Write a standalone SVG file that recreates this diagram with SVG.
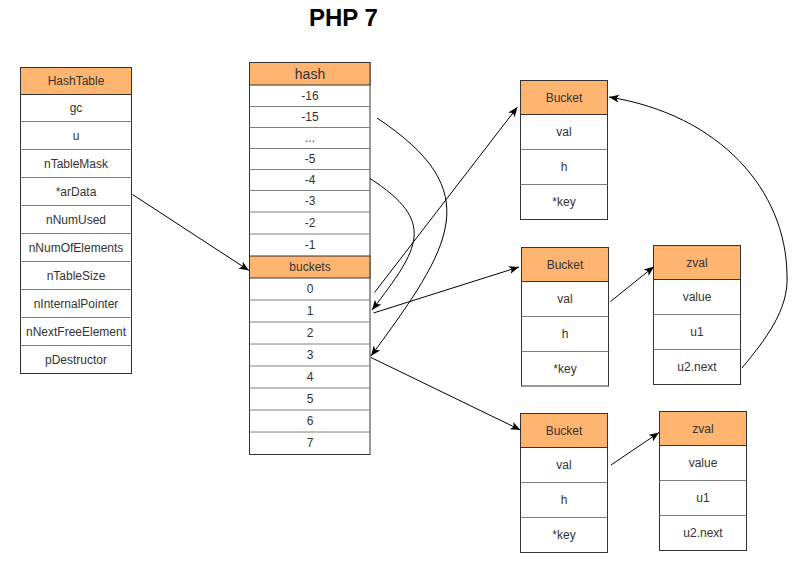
<svg xmlns="http://www.w3.org/2000/svg" width="808" height="566" viewBox="0 0 808 566">
<style>
.box{fill:#fff;stroke:#333;stroke-width:1}
.hd{fill:#FFB570;stroke:#333;stroke-width:1}
.div{stroke:#808080;stroke-width:1;fill:none}
text{font-family:"Liberation Sans",Arial,sans-serif;font-size:12px;fill:#333;text-anchor:middle}
.title{font-size:24px;font-weight:bold;fill:#000}
.big{font-size:14px}
.edge{fill:none;stroke:#000;stroke-width:1;marker-end:url(#arr)}
</style>
<defs>
<marker id="arr" markerUnits="userSpaceOnUse" markerWidth="12" markerHeight="10" refX="10" refY="4" orient="auto">
<path d="M0,0 L10,4 L0,8 L2.5,4 z" fill="#000"/>
</marker>
</defs>
<rect width="808" height="566" fill="#fff"/>
<text class="title" x="343.5" y="26">PHP 7</text>

<g id="hashtable">
<rect class="box" x="20.5" y="67.5" width="111" height="306"/>
<rect class="hd" x="20.5" y="67.5" width="111" height="27"/>
<path class="div" d="M20.5,121.5H131.5M20.5,149.5H131.5M20.5,177.5H131.5M20.5,205.5H131.5M20.5,233.5H131.5M20.5,261.5H131.5M20.5,289.5H131.5M20.5,317.5H131.5M20.5,345.5H131.5"/>
<text x="76" y="85">HashTable</text>
<text x="76" y="112">gc</text>
<text x="76" y="139.5">u</text>
<text x="76" y="167.5">nTableMask</text>
<text x="76" y="195.5">*arData</text>
<text x="76" y="223.5">nNumUsed</text>
<text x="76" y="251.5">nNumOfElements</text>
<text x="76" y="279.5">nTableSize</text>
<text x="76" y="307.5">nInternalPointer</text>
<text x="76" y="335.5">nNextFreeElement</text>
<text x="76" y="363.5">pDestructor</text>
</g>

<g id="hash">
<rect class="box" x="249.5" y="62.5" width="120.5" height="392"/>
<rect class="hd" x="249.5" y="62.5" width="120.5" height="22.5"/>
<rect class="hd" x="249.5" y="256" width="120.5" height="22"/>
<path class="div" d="M249.5,106.5H370M249.5,127.5H370M249.5,148.5H370M249.5,169.5H370M249.5,190.5H370M249.5,212H370M249.5,234H370M249.5,300H370M249.5,322H370M249.5,344H370M249.5,366H370M249.5,388H370M249.5,410H370M249.5,432H370"/>
<text class="big" x="310" y="79">hash</text>
<text x="310" y="100">-16</text>
<text x="310" y="121">-15</text>
<text x="310" y="142">...</text>
<text x="310" y="163">-5</text>
<text x="310" y="184">-4</text>
<text x="310" y="205">-3</text>
<text x="310" y="227">-2</text>
<text x="310" y="249">-1</text>
<text x="310" y="271">buckets</text>
<text x="310" y="293">0</text>
<text x="310" y="315">1</text>
<text x="310" y="337">2</text>
<text x="310" y="359">3</text>
<text x="310" y="381">4</text>
<text x="310" y="403">5</text>
<text x="310" y="425">6</text>
<text x="310" y="447">7</text>
</g>

<g id="bucket1">
<rect class="box" x="520.5" y="80.5" width="87" height="139"/>
<rect class="hd" x="520.5" y="80.5" width="87" height="34"/>
<path class="div" d="M520.5,149.5H607.5M520.5,184.5H607.5"/>
<text x="564" y="101.5">Bucket</text>
<text x="564" y="136">val</text>
<text x="564" y="171">h</text>
<text x="564" y="206">*key</text>
</g>

<g id="bucket2">
<rect class="box" x="521.5" y="247.5" width="87" height="138.5"/>
<rect class="hd" x="521.5" y="247.5" width="87" height="34"/>
<path class="div" d="M521.5,316.5H608.5M521.5,351.5H608.5"/>
<text x="565" y="268.5">Bucket</text>
<text x="565" y="303">val</text>
<text x="565" y="338">h</text>
<text x="565" y="373">*key</text>
</g>

<g id="bucket3">
<rect class="box" x="520.5" y="413.5" width="87" height="139"/>
<rect class="hd" x="520.5" y="413.5" width="87" height="34"/>
<path class="div" d="M520.5,482.5H607.5M520.5,517.5H607.5"/>
<text x="564" y="434.5">Bucket</text>
<text x="564" y="469">val</text>
<text x="564" y="504">h</text>
<text x="564" y="539">*key</text>
</g>

<g id="zval1">
<rect class="box" x="653.5" y="245.5" width="87" height="139"/>
<rect class="hd" x="653.5" y="245.5" width="87" height="34"/>
<path class="div" d="M653.5,314.5H740.5M653.5,349.5H740.5"/>
<text x="697" y="266.5">zval</text>
<text x="697" y="301">value</text>
<text x="697" y="336">u1</text>
<text x="697" y="371">u2.next</text>
</g>

<g id="zval2">
<rect class="box" x="659.5" y="411.5" width="87" height="139"/>
<rect class="hd" x="659.5" y="411.5" width="87" height="34"/>
<path class="div" d="M659.5,480.5H746.5M659.5,515.5H746.5"/>
<text x="703" y="432.5">zval</text>
<text x="703" y="467">value</text>
<text x="703" y="502">u1</text>
<text x="703" y="537">u2.next</text>
</g>

<g id="connectors">
<path class="edge" d="M132.5,194.5 L249,270.5"/>
<path class="edge" d="M374.5,292.5 L517.5,107"/>
<path class="edge" d="M373.5,313 L519,267"/>
<path class="edge" d="M371,357.5 L520.5,430"/>
<path class="edge" d="M370,178.5 C436.6,221.6 420.1,247.7 372,310"/>
<path class="edge" d="M377,118 C487.6,191.3 452.5,245.4 371,356"/>
<path class="edge" d="M610.5,301.5 L654,266.5"/>
<path class="edge" d="M611,465 L659,432.5"/>
<path class="edge" d="M742,368 C765,340 789,310 787,275 C786,190 720,115 609,97"/>
</g>
</svg>
